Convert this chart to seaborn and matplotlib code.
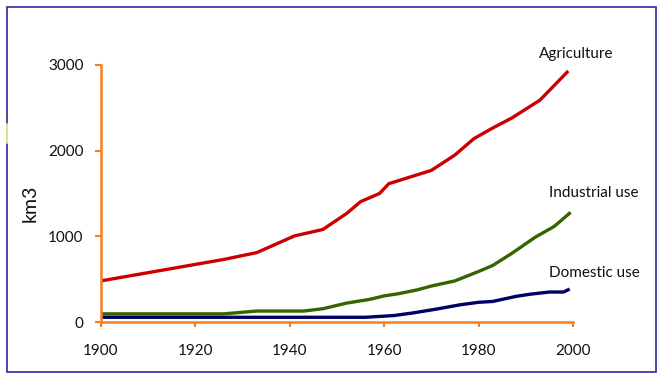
import matplotlib
matplotlib.use("Agg")
import matplotlib.pyplot as plt
import matplotlib.patches as patches
from matplotlib.lines import Line2D
import seaborn as sns
import pandas as pd

# ---- data ----
agri_years = [1900, 1926, 1933, 1941, 1947, 1952, 1955, 1959, 1961, 1970, 1975, 1979, 1983, 1987, 1993, 1999]
agri_vals = [480, 730, 810, 1005, 1080, 1265, 1405, 1500, 1615, 1770, 1950, 2140, 2265, 2380, 2590, 2930]

ind_years = [1900, 1926, 1933, 1943, 1947, 1952, 1957, 1960, 1963, 1967, 1970, 1975, 1980, 1983, 1987, 1992, 1996, 1999.5]
ind_vals = [95, 95, 128, 128, 155, 220, 265, 305, 330, 375, 420, 480, 590, 660, 800, 990, 1115, 1280]

dom_years = [1900, 1956, 1962, 1966, 1971, 1976, 1980, 1983, 1988, 1991, 1995, 1998, 1999.3]
dom_vals = [55, 55, 75, 105, 150, 200, 230, 240, 300, 325, 350, 350, 385]

series_names = ["Agriculture", "Industrial use", "Domestic use"]
series_colors = ["#CC0000", "#336600", "#000066"]
y_ticks = [0, 1000, 2000, 3000]
x_ticks = [1900, 1920, 1940, 1960, 1980, 2000]
y_label = "km3"

df = pd.concat([
    pd.DataFrame({"year": agri_years, "value": agri_vals, "use": series_names[0]}),
    pd.DataFrame({"year": ind_years, "value": ind_vals, "use": series_names[1]}),
    pd.DataFrame({"year": dom_years, "value": dom_vals, "use": series_names[2]}),
], ignore_index=True)

sns.set_style("white")
plt.rcParams['font.family'] = ['Lato', 'DejaVu Sans']

W, H = 665, 381
fig = plt.figure(figsize=(W / 100, H / 100), dpi=100)
ax = fig.add_axes([101 / W, 1 - 322 / H, 472 / W, 257 / H])

palette = dict(zip(series_names, series_colors))
sns.lineplot(data=df, x="year", y="value", hue="use", palette=palette,
             legend=False, ax=ax, linewidth=2.4, sort=False, estimator=None)
for ln in ax.lines:
    ln.set_solid_capstyle("butt")
    ln.set_clip_on(False)

ax.set_xlim(1900, 2000)
ax.set_ylim(0, 3000)
ax.set_xticks(x_ticks)
ax.set_yticks(y_ticks)
ax.set_xlabel("")
ax.set_ylabel("")

orange = "#F57E20"
for s in ["top", "right"]:
    ax.spines[s].set_visible(False)
for s in ["left", "bottom"]:
    ax.spines[s].set_color(orange)
    ax.spines[s].set_linewidth(1.8)
ax.tick_params(axis="x", bottom=True, direction="out", length=3.5, width=1.5, color=orange,
               pad=12, labelsize=11, labelcolor="#111111")
ax.tick_params(axis="y", left=True, direction="out", length=4.5, width=1.5, color=orange,
               pad=8, labelsize=11, labelcolor="#111111")
ax.set_facecolor("none")

fig.text(30 / W, 1 - 203 / H, y_label, rotation=90, ha="center", va="center",
         fontsize=14, color="#111111")

label_pos = {"Agriculture": (539, 54), "Industrial use": (549, 193), "Domestic use": (549, 273)}
for name in series_names:
    px, py = label_pos[name]
    fig.text(px / W, 1 - py / H, name, ha="left", va="center", fontsize=11, color="#111111")

# outer border
fig.patches.append(patches.Rectangle((7 / W, 1 - 372 / H), (656 - 7) / W, (372 - 7) / H,
                                     transform=fig.transFigure, fill=False,
                                     edgecolor="#2A2AA8", linewidth=1.2))
fig.lines.append(Line2D([7 / W, 7 / W], [1 - 143 / H, 1 - 124 / H], transform=fig.transFigure,
                        color="#E2E28C", linewidth=1.4))

fig.savefig("out.png", dpi=100, facecolor="white")
